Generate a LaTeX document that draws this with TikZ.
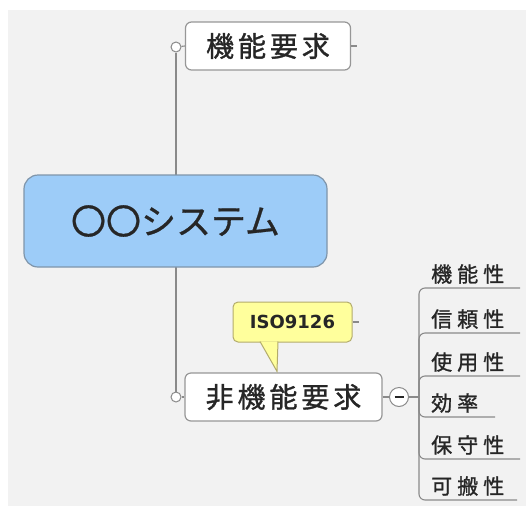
\documentclass[tikz,border=0pt]{standalone}
\usepackage{fontspec}
\newfontfamily\jpbig[LetterSpace=14,FakeBold=1.2]{Noto Sans CJK JP}
\newfontfamily\jpsys[FakeBold=0.8]{Noto Sans CJK JP}
\newfontfamily\jpch[LetterSpace=24,FakeBold=1.2]{Noto Sans CJK JP}
\newfontfamily\isofont{DejaVu Sans}
\usetikzlibrary{calc}
\definecolor{bg}{HTML}{F2F2F2}
\definecolor{linec}{HTML}{8A8A8A}
\definecolor{boxborder}{HTML}{979797}
\definecolor{centerfill}{HTML}{9DCCF8}
\definecolor{centerborder}{HTML}{7F95AA}
\definecolor{notefill}{HTML}{FFFF9C}
\definecolor{noteborder}{HTML}{B3AC6C}
\begin{document}
\begin{tikzpicture}[x=1pt,y=-1pt,
  topic/.style={draw=boxborder, line width=1.2pt, fill=white, rounded corners=6pt,
    inner sep=0pt, minimum height=48pt, font=\jpbig\fontsize{28}{28}\selectfont, text=black!85},
  central/.style={draw=centerborder, line width=1.2pt, fill=centerfill, rounded corners=14pt,
    inner sep=0pt, minimum width=303pt, minimum height=92pt, font=\jpsys\fontsize{35}{35}\selectfont, text=black!85},
  note/.style={draw=noteborder, line width=1pt, fill=notefill, rounded corners=5pt,
    inner sep=0pt, minimum width=119pt, minimum height=40pt, font=\isofont\bfseries\fontsize{18}{18}\selectfont, text=black!85},
  knob/.style={circle, draw=linec, line width=1pt, fill=white, inner sep=0pt, minimum size=#1},
  conn/.style={draw=linec, line width=1.1pt},
  child/.style={anchor=west, inner sep=0pt, font=\jpch\fontsize{21}{21}\selectfont, text=black!85}
]
\useasboundingbox (0,0) rectangle (526,506);
\fill[white] (0,0) rectangle (526,506);
\fill[bg] (8,10) rectangle (526,506);

% trunk knobs and trunk
\node[knob=10pt] (k1) at (176,47) {};
\node[knob=10pt] (k2) at (176,397) {};
\draw[conn] (k1) -- (k2);

% central topic
\node[central] (sys) at (175.5,221) {〇〇システム};

% main topics
\node[topic, minimum width=165pt] (fr) at (268,46) {機能要求};
\node[topic, minimum width=197pt] (nfr) at (283.5,397) {非機能要求};
\draw[conn] (k1) -- (fr.west);
\draw[conn] (k2) -- (nfr.west);
\coordinate (frt) at ($(fr.east)+(6,0)$);
\draw[conn] (fr.east) -- (frt);

% note callout
\node[note] (iso) at (292.5,322) {ISO9126};
\coordinate (tip) at ($(nfr.north)+(-6.5,-1)$);
\coordinate (ta) at (260,341.5);
\coordinate (tb) at (278,341.5);
\fill[notefill] (ta) -- (tip) -- (tb) -- cycle;
\draw[noteborder, line width=1pt] (ta) -- (tip) -- (tb);
\coordinate (isot) at ($(iso.east)+(6,0)$);
\draw[conn] (iso.east) -- (isot);

% collapse knob
\node[knob=19pt] (col) at (399,397) {};
\draw[line width=1.6pt, black!85] ($(col.center)+(-4.5,0)$) -- ($(col.center)+(4.5,0)$);
\draw[conn] (nfr.east) -- (col.west);
\coordinate (j) at (419,397);
\draw[conn] (col.east) -- (j);

% children
\foreach \i/\t/\yy/\xr in {1/機能性/288/520, 2/信頼性/333/520, 3/使用性/376/520, 4/効率/417/495, 5/保守性/459/520, 6/可搬性/500/517}{
  \coordinate (ul\i) at (426,\yy);
  \coordinate (ur\i) at (\xr,\yy);
  \draw[conn, rounded corners=6pt] (j) |- (ur\i);
  \node[child] (c\i) at (431,\yy-14) {\t};
}
\end{tikzpicture}
\end{document}
